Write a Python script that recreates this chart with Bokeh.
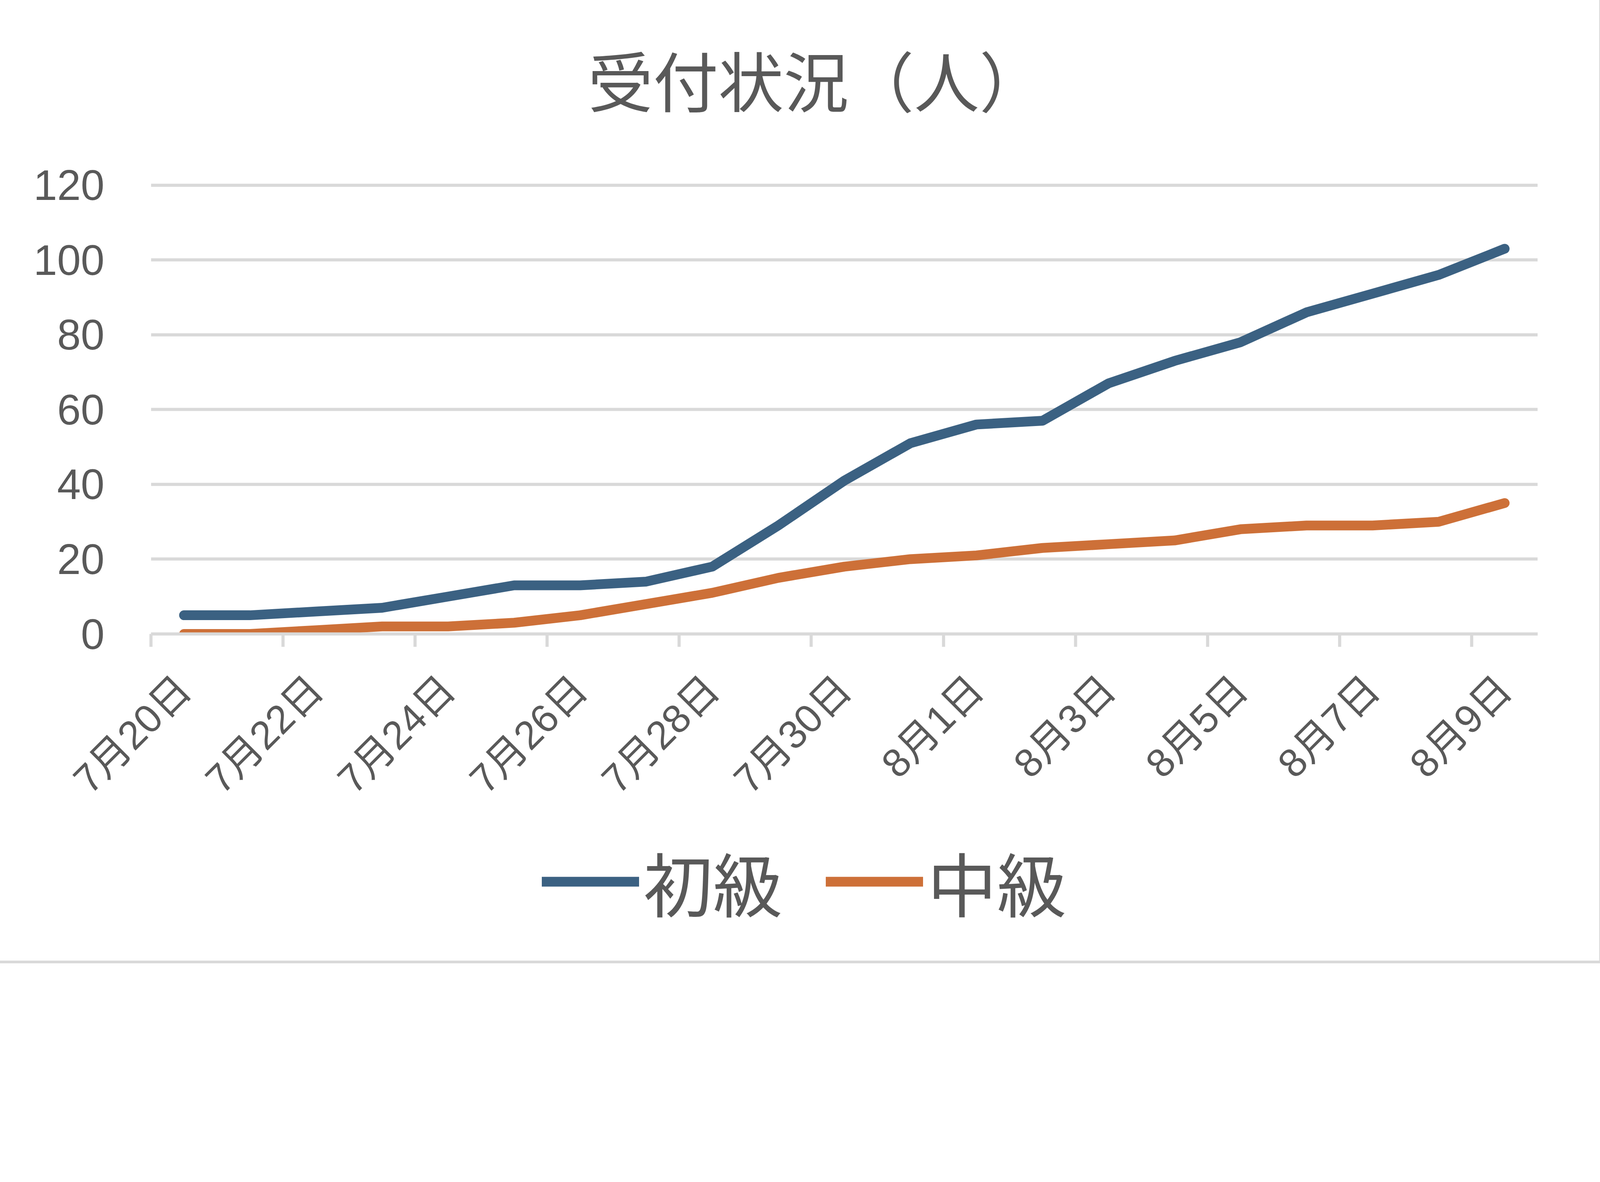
from math import pi
from bokeh.plotting import figure
from bokeh.layouts import column
from bokeh.models import FixedTicker, Legend, LegendItem, Range1d
from bokeh.core.properties import value
from bokeh.embed import file_html
from bokeh.resources import INLINE

# ---- data ----
dates = ["7月20日", "7月21日", "7月22日", "7月23日", "7月24日", "7月25日", "7月26日",
         "7月27日", "7月28日", "7月29日", "7月30日", "7月31日", "8月1日", "8月2日",
         "8月3日", "8月4日", "8月5日", "8月6日", "8月7日", "8月8日", "8月9日"]
beginner = [5, 5, 6, 7, 10, 13, 13, 14, 18, 29, 41, 51, 56, 57, 67, 73, 78, 86, 91, 96, 103]
intermediate = [0, 0, 1, 2, 2, 3, 5, 8, 11, 15, 18, 20, 21, 23, 24, 25, 28, 29, 29, 30, 35]
series_names = ["初級", "中級"]
y_ticks = [0, 20, 40, 60, 80, 100, 120]
title_text = "受付状況（人）"

TEXT = "#595959"
GRID = "#d9d9d9"
BLUE = "#3B6182"
ORANGE = "#CD7038"
LATIN = "'Liberation Sans', 'Noto Sans CJK JP'"
CJK = "'Noto Sans CJK JP'"

S = 0.817  # page scale


def px(v):
    return int(round(v * S))


def fs(v):
    return f"{v * S:.0f}px"


W = px(5011)
L = px(473)
R = px(194)
H_TITLE = px(490)
H_MAIN = px(1986 + 610) - H_TITLE
H_LEG = px(3011) - H_TITLE - H_MAIN


def bare(fig):
    fig.grid.visible = False
    fig.outline_line_color = None
    fig.background_fill_color = "white"
    fig.border_fill_color = "white"


x = list(range(len(dates)))

# ---- title panel (frames are aligned with the main chart: span L .. W-R) ----
tf = figure(width=W, height=H_TITLE, output_backend="svg", toolbar_location=None,
            x_range=(L, W - R), y_range=(H_TITLE, 0), min_border=0,
            x_axis_location=None, y_axis_location=None)
bare(tf)
tf.text(x=[px(2495) + 51], y=[px(245)], text=[title_text], text_align="center",
        text_baseline="middle", text_font=value(CJK), text_font_size=fs(205),
        text_color=TEXT)

# ---- main chart ----
p = figure(width=W, height=H_MAIN, output_backend="svg", toolbar_location=None,
           x_range=(-0.5, len(dates) - 0.5), y_range=Range1d(0, 120.8),
           min_border_left=L, min_border_right=R,
           min_border_top=px(570) - H_TITLE, min_border_bottom=px(610))
p.outline_line_color = None
p.background_fill_color = "white"
p.border_fill_color = "white"

p.xgrid.visible = False
p.ygrid.grid_line_color = GRID
p.ygrid.grid_line_width = px(10)
p.ygrid.ticker = FixedTicker(ticks=y_ticks)

xa = p.xaxis[0]
xa.ticker = FixedTicker(ticks=list(range(0, len(dates), 2)),
                        minor_ticks=[i - 0.5 for i in range(0, len(dates), 2)])
xa.major_label_overrides = {i: dates[i] for i in range(0, len(dates), 2)}
xa.major_label_orientation = pi / 4
xa.major_label_text_font = LATIN
xa.major_label_text_font_size = fs(125)
xa.major_label_text_color = TEXT
xa.major_label_standoff = px(112)
xa.axis_line_color = GRID
xa.axis_line_width = px(10)
xa.major_tick_in = 0
xa.major_tick_out = 0
xa.minor_tick_in = 0
xa.minor_tick_out = px(40)
xa.minor_tick_line_color = GRID
xa.minor_tick_line_width = px(10)

ya = p.yaxis[0]
ya.ticker = FixedTicker(ticks=y_ticks)
ya.axis_line_color = None
ya.major_tick_line_color = None
ya.minor_tick_line_color = None
ya.major_label_text_font = LATIN
ya.major_label_text_font_size = fs(133)
ya.major_label_text_color = TEXT
ya.major_label_standoff = px(138)

p.line(x, beginner, line_color=BLUE, line_width=px(30), line_cap="round", line_join="round")
p.line(x, intermediate, line_color=ORANGE, line_width=px(30), line_cap="round", line_join="round")

# ---- legend panel (series drawn off-view, only their legend glyphs show) ----
leg_center = px(2762) - H_TITLE - H_MAIN
lf = figure(width=W, height=H_LEG, output_backend="svg", toolbar_location=None,
            x_range=(1000, 1001), y_range=(1000, 1001), min_border=0,
            min_border_bottom=max(0, H_LEG - 2 * leg_center),
            x_axis_location=None, y_axis_location=None)
bare(lf)
l1 = lf.line(x, beginner, line_color=BLUE, line_width=px(30), line_cap="round")
l2 = lf.line(x, intermediate, line_color=ORANGE, line_width=px(30), line_cap="round")
legend = Legend(items=[LegendItem(label=series_names[0], renderers=[l1]),
                       LegendItem(label=series_names[1], renderers=[l2])],
                orientation="horizontal", location="center_left",
                glyph_width=249, glyph_height=px(218), label_standoff=11,
                spacing=px(136), padding=0, margin=1387 - L, border_line_color=None,
                background_fill_alpha=0, label_text_font=CJK,
                label_text_font_size=fs(218), label_text_color=TEXT,
                label_height=px(218))
lf.add_layout(legend)

page = column(tf, p, lf, spacing=0)
page.styles = {"box-shadow": f"0 0 0 {px(9)}px #d9d9d9"}

open("out.html", "w").write(file_html(page, INLINE))
